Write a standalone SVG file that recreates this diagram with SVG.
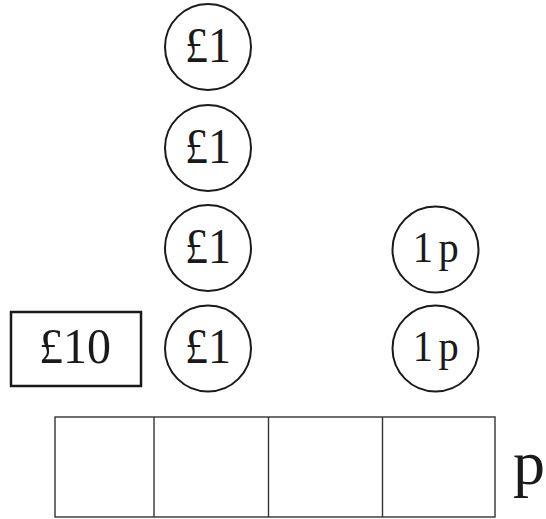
<svg xmlns="http://www.w3.org/2000/svg" width="546" height="519" viewBox="0 0 546 519">
<style>
.coin{fill:#fff;stroke:#1a1a1a;stroke-width:2}
.t{font-family:"Liberation Serif","Times New Roman",serif;fill:#1a1a1a;text-anchor:middle}
.big{font-size:50px}
.pen{font-size:44px}
.cell{fill:none;stroke:#333;stroke-width:1.4}
</style>
<rect width="546" height="519" fill="#fff"/>
<g id="note10">
<rect x="11" y="312" width="130" height="74" fill="#fff" stroke="#1a1a1a" stroke-width="2.5"/>
<text class="t big" transform="translate(75,363) scale(0.96,1)">£10</text>
</g>
<g id="pound1">
<circle class="coin" cx="208" cy="47" r="43"/>
<text class="t big" transform="translate(208,61.5) scale(0.92,1)">£1</text>
</g>
<g id="pound2">
<circle class="coin" cx="208" cy="148" r="43"/>
<text class="t big" transform="translate(208,162.5) scale(0.92,1)">£1</text>
</g>
<g id="pound3">
<circle class="coin" cx="208" cy="248" r="43"/>
<text class="t big" transform="translate(208,262.5) scale(0.92,1)">£1</text>
</g>
<g id="penny1">
<circle class="coin" cx="435.5" cy="249.5" r="43"/>
<text class="t pen" transform="translate(438.5,262) scale(0.92,1)" letter-spacing="6">1p</text>
</g>
<g id="pound4">
<circle class="coin" cx="208" cy="348.5" r="43"/>
<text class="t big" transform="translate(208,363) scale(0.92,1)">£1</text>
</g>
<g id="penny2">
<circle class="coin" cx="435.5" cy="348.5" r="43"/>
<text class="t pen" transform="translate(438.5,361) scale(0.92,1)" letter-spacing="6">1p</text>
</g>
<g id="answer-boxes">
<rect class="cell" x="55" y="417" width="440" height="100"/>
<line class="cell" x1="154" y1="417" x2="154" y2="517"/>
<line class="cell" x1="268.5" y1="417" x2="268.5" y2="517"/>
<line class="cell" x1="382.5" y1="417" x2="382.5" y2="517"/>
</g>
<g id="unit">
<text x="513" y="484" font-family="Liberation Serif, Times New Roman, serif" font-size="64" fill="#1a1a1a">p</text>
</g>
<g id="connectors"/>
</svg>
